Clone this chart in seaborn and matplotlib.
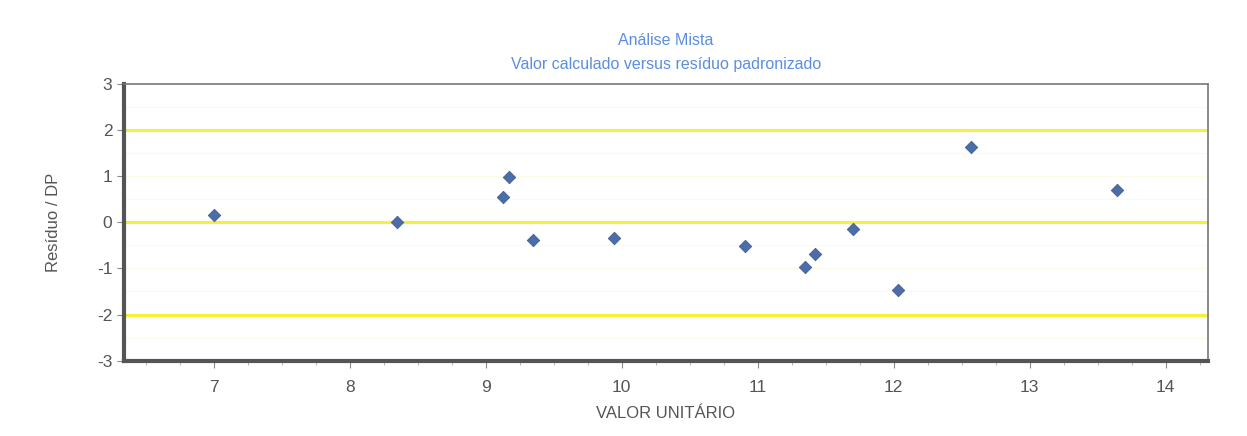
import numpy as np
import pandas as pd
import matplotlib
matplotlib.use('Agg')
import matplotlib.pyplot as plt
import seaborn as sns
from matplotlib.ticker import MultipleLocator

# values
valor_unitario = [7.00, 8.35, 9.13, 9.17, 9.35, 9.94, 10.91, 11.35, 11.42, 11.70, 12.03, 12.57, 13.64]
residuo_dp = [0.16, 0.00, 0.56, 0.98, -0.38, -0.35, -0.51, -0.96, -0.69, -0.15, -1.46, 1.63, 0.70]
limites = [2, 0, -2]
y_ticks = [-3, -2, -1, 0, 1, 2, 3]
x_ticks = [7, 8, 9, 10, 11, 12, 13, 14]

TITLE = 'Análise Mista\nValor calculado versus resíduo padronizado'
X_LABEL = 'VALOR UNITÁRIO'
Y_LABEL = 'Resíduo / DP'

sns.set_style('white')
plt.rcParams['font.family'] = ['Liberation Sans', 'DejaVu Sans']
plt.rcParams['axes.unicode_minus'] = False

df = pd.DataFrame({'x': valor_unitario, 'y': residuo_dp})

fig = plt.figure(figsize=(12.47, 4.36), dpi=100)
ax = fig.add_axes([0.0995, 0.173, 0.869, 0.634])

# faint grid every half unit
for g in np.arange(-2.5, 3.0, 0.5):
    ax.axhline(g, color='#fbfbe6', lw=0.8, zorder=0)
for v in limites:
    ax.axhline(v, color='#f4f03c', lw=2.2, zorder=1)

sns.scatterplot(data=df, x='x', y='y', marker='D', s=40, color='#4d6da8',
                edgecolor='#3f5e96', linewidth=0.6, ax=ax, zorder=3)

ax.set_xlim(6.34, 14.31)
ax.set_ylim(-3, 3)
ax.set_xticks(x_ticks)
ax.set_yticks(y_ticks)
ax.xaxis.set_minor_locator(MultipleLocator(0.25))
ax.tick_params(axis='both', which='major', direction='out', length=5, width=0.8,
               color='#888888', labelsize=12.5, labelcolor='#555555', bottom=True, left=True)
ax.tick_params(axis='x', which='major', pad=9)
ax.tick_params(axis='x', which='minor', direction='out', length=3, width=0.6,
               color='#aaaaaa', bottom=True)

for side in ['left', 'bottom']:
    ax.spines[side].set_color('#555555')
    ax.spines[side].set_linewidth(3)
for side in ['top', 'right']:
    ax.spines[side].set_color('#777777')
    ax.spines[side].set_linewidth(1.2)

ax.set_xlabel(X_LABEL, fontsize=12, color='#555555', labelpad=8)
ax.set_ylabel(Y_LABEL, fontsize=12, color='#555555', labelpad=26)
ax.set_title(TITLE, fontsize=11.5, color='#5b8ee0', pad=11, linespacing=1.75)

fig.savefig('out.png', dpi=100)
